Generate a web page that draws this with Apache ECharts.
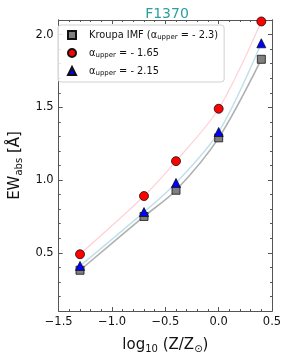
<!DOCTYPE html>
<html><head><meta charset="utf-8">
<script src="https://cdn.jsdelivr.net/npm/echarts@6/dist/echarts.min.js"></script>
<style>html,body{margin:0;padding:0;background:#fff}#c{width:287px;height:359px}</style>
</head><body><div id="c"></div>
<script>
const logZ = [-1.3, -0.7, -0.4, 0.0, 0.4];
const kroupa = [0.38, 0.75, 0.93, 1.29, 1.83];
const a165 = [0.49, 0.89, 1.13, 1.49, 2.09];
const a215 = [0.41, 0.78, 0.98, 1.33, 1.94];
const yMajor = [0.5, 1.0, 1.5, 2.0];
const yMinor = [0.2,0.3,0.4,0.6,0.7,0.8,0.9,1.1,1.2,1.3,1.4,1.6,1.7,1.8,1.9,2.0];
const pair = a => logZ.map((x,i)=>[x,a[i]]);
const F = 'DejaVu Sans';
const fmt = v => (v<0?'\u2212':'') + Math.abs(v).toFixed(1);
const axCol = '#555';
function xAx(pos, labels){
  return {type:'value', position:pos, min:-1.5, max:0.5, interval:0.5,
    axisLine:{show:true,onZero:false,lineStyle:{color:axCol,width:1}},
    axisTick:{show:true,inside:true,length:4,lineStyle:{color:axCol}},
    minorTick:{show:true,splitNumber:5,length:2,lineStyle:{color:axCol}},
    splitLine:{show:false},
    axisLabel:{show:labels,formatter:fmt,fontFamily:F,fontSize:11.5,color:'#111',margin:5},
    name: labels ? '{n|log}{s|10}{n| (Z/Z}{s|\u2299}{n|)}' : '',
    nameLocation:'middle', nameGap:25,
    nameTextStyle:{rich:{n:{fontFamily:F,fontSize:15,color:'#111'},s:{fontFamily:F,fontSize:10,color:'#111',verticalAlign:'bottom',padding:[8,0,0,0]}}}
  };
}
function yAx(pos, vals, len, labels){
  return {type:'value', position:pos, min:0.1, max:2.1,
    axisLine:{show:true,onZero:false,lineStyle:{color:axCol,width:1}},
    axisTick:{show:true,inside:true,length:len,customValues:vals,lineStyle:{color:axCol}},
    splitLine:{show:false},
    axisLabel:{show:labels,customValues:yMajor,formatter:v=>v.toFixed(1),fontFamily:F,fontSize:11.5,color:'#111',margin:5},
    name: labels ? '{n|EW}{s|abs}{n| [\u00c5]}' : '',
    nameLocation:'middle', nameGap:29,
    nameTextStyle:{rich:{n:{fontFamily:F,fontSize:15,color:'#111'},s:{fontFamily:F,fontSize:10,color:'#111',verticalAlign:'bottom',padding:[8,0,0,0]}}}
  };
}
const lbl = {
  'Kroupa': '{n|Kroupa IMF (\u03b1}{s|upper}{n| = - 2.3)}',
  'a165': '{n|\u03b1}{s|upper}{n| = - 1.65}',
  'a215': '{n|\u03b1}{s|upper}{n| = - 2.15}'
};
const chart = echarts.init(document.getElementById('c'));
chart.setOption({
  animation:false,
  title:{text:'F1370',left:162,textAlign:'center',top:2,textStyle:{fontFamily:F,fontSize:14,fontWeight:'normal',color:'#2a9f9f'}},
  grid:{left:53,right:15,top:20,bottom:43},
  xAxis:[xAx('bottom',true), xAx('top',false)],
  yAxis:[yAx('left',yMajor,4,true), yAx('left',yMinor,2,false), yAx('right',yMajor,4,false), yAx('right',yMinor,2,false)],
  legend:{orient:'vertical',left:58,top:25,data:['Kroupa','a165','a215'],
    itemWidth:8,itemHeight:8,itemGap:7,padding:[5,6,5,9],
    borderColor:'#d0d0d0',borderWidth:1,borderRadius:3,backgroundColor:'rgba(255,255,255,0.85)',
    formatter:n=>lbl[n],
    textStyle:{padding:[0,0,0,8],rich:{n:{fontFamily:F,fontSize:9.8,color:'#111'},s:{fontFamily:F,fontSize:7,color:'#111',verticalAlign:'bottom',padding:[5,0,0,0]}}}
  },
  series:[
    {name:'l165',type:'line',data:pair(a165),smooth:0.3,showSymbol:false,lineStyle:{color:'#ffd0d8',width:1.2},z:1},
    {name:'l215',type:'line',data:pair(a215),smooth:0.3,showSymbol:false,lineStyle:{color:'#c0e0ec',width:1.5},z:1},
    {name:'lK',type:'line',data:pair(kroupa),smooth:0.3,showSymbol:false,lineStyle:{color:'#b0b0b0',width:1.6},z:1},
    {name:'Kroupa',type:'scatter',data:pair(kroupa),symbol:'rect',symbolSize:8,itemStyle:{color:'#808080',borderColor:'#111',borderWidth:0.8,opacity:1},z:3},
    {name:'a165',type:'scatter',data:pair(a165),symbol:'circle',symbolSize:9,itemStyle:{color:'#ff0000',borderColor:'#111',borderWidth:0.8,opacity:1},z:3},
    {name:'a215',type:'scatter',data:pair(a215),symbol:'triangle',symbolSize:9,itemStyle:{color:'#0000ff',borderColor:'#111',borderWidth:0.8,opacity:1},z:3}
  ]
});
</script></body></html>
